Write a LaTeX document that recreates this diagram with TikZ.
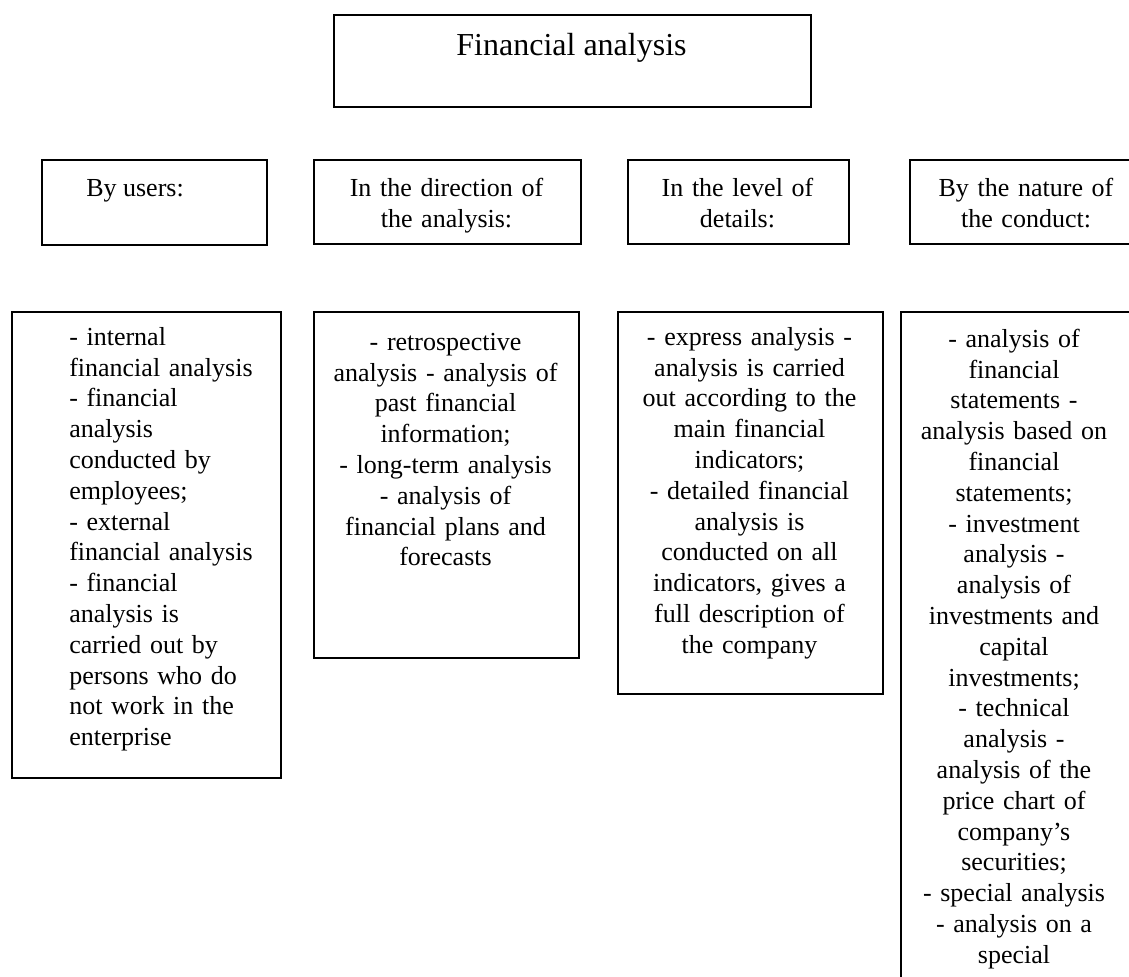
\documentclass[tikz,border=0pt]{standalone}
\usepackage{fontspec}
\setmainfont{Liberation Serif}
\usetikzlibrary{calc}
\tikzset{
  box/.style={draw, line width=1.2pt, inner sep=0pt, anchor=north west},
  wh/.style 2 args={minimum width=#1*0.75pt, minimum height=#2*0.75pt},
  txt/.style={inner sep=0pt, font=\fontsize{19.5pt}{23.1pt}\selectfont},
  ctxt/.style={txt, anchor=north, align=center, text width=#1*0.75pt, execute at begin node=\strut},
  ltxt/.style={txt, anchor=north west, align=left, text width=#1*0.75pt, execute at begin node=\strut},
}
\begin{document}
\begin{tikzpicture}[x=0.75pt, y=-0.75pt]
\useasboundingbox (0,0) rectangle (1129,976);
\clip (0,0) rectangle (1129,976);

% top
\node[box, wh={477}{92}] (fa) at (333,14) {};
\node[txt, font=\fontsize{24pt}{27.6pt}\selectfont, anchor=base] (fat) at (571.5,55) {Financial analysis};

% row 2
\node[box, wh={225}{85}] (u) at (41,159) {};
\node[box, wh={267}{84}] (d) at (313,159) {};
\node[box, wh={221}{84}] (l) at (627,159) {};
\node[box, wh={234}{84}] (n) at (909,159) {};

\node[txt, anchor=base west] (ut) at (86,196) {By users:};
\node[ctxt=250] (dt) at (446.5,174.4) {In the direction of\\the analysis:};
\node[ctxt=210] (lt) at (737.5,174.4) {In the level of\\details:};
\node[ctxt=220] (nt) at (1026,174.4) {By the nature of\\the conduct:};

% row 3
\node[box, wh={269}{466}] (ub) at (11,311) {};
\node[box, wh={265}{346}] (db) at (313,311) {};
\node[box, wh={265}{382}] (lb) at (617,311) {};
\node[box, wh={230}{700}] (nb) at (900,311) {};

\node[ltxt=205] (ubt) at (69,323.4) {- internal\\financial analysis\\- financial\\analysis\\conducted by\\employees;\\- external\\financial analysis\\- financial\\analysis is\\carried out by\\persons who do\\not work in the\\enterprise};

\node[ctxt=255] (dbt) at (445.5,328.4) {- retrospective\\analysis - analysis of\\past financial\\information;\\- long-term analysis\\- analysis of\\financial plans and\\forecasts};

\node[ctxt=255] (lbt) at (749.5,323.4) {- express analysis -\\analysis is carried\\out according to the\\main financial\\indicators;\\- detailed financial\\analysis is\\conducted on all\\indicators, gives a\\full description of\\the company};

\node[ctxt=220] (nbt) at (1014,325.4) {- analysis of\\financial\\statements -\\analysis based on\\financial\\statements;\\- investment\\analysis -\\analysis of\\investments and\\capital\\investments;\\- technical\\analysis -\\analysis of the\\price chart of\\company’s\\securities;\\- special analysis\\- analysis on a\\special};
\end{tikzpicture}
\end{document}
